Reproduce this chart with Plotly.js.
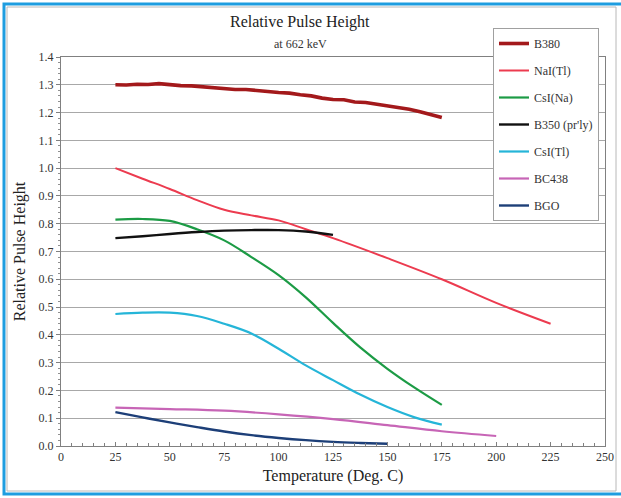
<!DOCTYPE html>
<html>
<head>
<meta charset="utf-8">
<script src="https://cdn.plot.ly/plotly-3.0.1.min.js"></script>
<style>html,body{margin:0;padding:0;background:#fff;}#chart{width:621px;height:498px;}</style>
</head>
<body>
<div id="chart"></div>
<script>
// ---- data ----
const seriesNames = ["B380", "NaI(Tl)", "CsI(Na)", "B350 (pr'ly)", "CsI(Tl)", "BC438", "BGO"];

const b380T = [25, 30, 35, 40, 45, 50, 55, 60, 65, 70, 75, 80, 85, 90, 95, 100, 105, 110, 115, 120, 125, 130, 135, 140, 145, 150, 155, 160, 165, 170, 175];
const b380V = [1.300, 1.299, 1.302, 1.301, 1.304, 1.300, 1.297, 1.296, 1.292, 1.290, 1.287, 1.283, 1.283, 1.278, 1.276, 1.272, 1.270, 1.264, 1.260, 1.252, 1.247, 1.246, 1.238, 1.236, 1.230, 1.224, 1.219, 1.212, 1.203, 1.194, 1.182];

const naiT = [25, 37.5, 50, 62.5, 75, 87.5, 100, 112.5, 125, 150, 175, 200, 225];
const naiV = [1.00, 0.962, 0.925, 0.885, 0.850, 0.830, 0.812, 0.780, 0.748, 0.676, 0.600, 0.515, 0.440];

const csinaT = [25, 37.5, 50, 62.5, 75, 87.5, 100, 112.5, 125, 137.5, 150, 162.5, 175];
const csinaV = [0.815, 0.817, 0.810, 0.780, 0.740, 0.680, 0.615, 0.535, 0.443, 0.355, 0.278, 0.210, 0.148];

const b350T = [25, 37.5, 50, 62.5, 75, 87.5, 100, 112.5, 125];
const b350V = [0.748, 0.755, 0.763, 0.770, 0.775, 0.777, 0.777, 0.772, 0.760];

const csitlT = [25, 37.5, 50, 62.5, 75, 87.5, 100, 112.5, 125, 137.5, 150, 162.5, 175];
const csitlV = [0.475, 0.480, 0.480, 0.468, 0.440, 0.405, 0.350, 0.290, 0.237, 0.185, 0.140, 0.103, 0.077];

const bc438T = [25, 50, 75, 100, 125, 150, 175, 200];
const bc438V = [0.138, 0.133, 0.127, 0.114, 0.097, 0.075, 0.053, 0.036];

const bgoT = [25, 37.5, 50, 62.5, 75, 87.5, 100, 112.5, 125, 137.5, 150];
const bgoV = [0.122, 0.103, 0.085, 0.068, 0.052, 0.039, 0.029, 0.021, 0.015, 0.011, 0.008];

const xTicks = [0, 25, 50, 75, 100, 125, 150, 175, 200, 225, 250];
const yTicks = [0.0, 0.1, 0.2, 0.3, 0.4, 0.5, 0.6, 0.7, 0.8, 0.9, 1.0, 1.1, 1.2, 1.3, 1.4];

// ---- styles ----
const colors = ["#a3191b", "#ec3b4f", "#1c9b45", "#111111", "#25b5d8", "#c765b6", "#1d3f78"];
const widths = [3.6, 2, 2.2, 2.4, 2.2, 2.2, 2.4];
const xs = [b380T, naiT, csinaT, b350T, csitlT, bc438T, bgoT];
const ys = [b380V, naiV, csinaV, b350V, csitlV, bc438V, bgoV];

const traces = seriesNames.map((n, i) => ({
  x: xs[i], y: ys[i], name: n, type: 'scatter', mode: 'lines',
  legendgroup: 'g' + i,
  line: {color: colors[i], width: widths[i], shape: i === 0 ? 'linear' : 'spline', smoothing: 1}
}));

const serif = "Liberation Serif";
const L = 61, R = 605, T = 57, B = 446;
const px = v => (v - L) / (R - L);
const py = v => (B - v) / (B - T);

const layout = {
  width: 621, height: 498,
  margin: {l: L, r: 621 - R, t: T, b: 498 - B},
  paper_bgcolor: '#ffffff', plot_bgcolor: '#ffffff',
  font: {family: serif, color: '#333'},
  showlegend: true,
  legend: {
    x: px(493), y: py(28), xanchor: 'left', yanchor: 'top',
    bgcolor: '#ffffff', bordercolor: '#a0a0a0', borderwidth: 1,
    font: {family: serif, size: 12, color: '#333'},
    itemwidth: 30, tracegroupgap: 8, traceorder: 'grouped'
  },
  xaxis: {
    range: [0, 250], tickvals: xTicks, ticktext: xTicks.map(String),
    showgrid: false, zeroline: false,
    showline: true, linecolor: '#808080', linewidth: 1, mirror: true,
    ticks: 'inside', ticklen: 4, tickcolor: '#808080',
    minor: {dtick: 5, ticks: 'inside', ticklen: 3, tickcolor: '#808080', showgrid: false},
    tickfont: {family: serif, size: 12, color: '#333'},
    title: {text: 'Temperature (Deg. C)', font: {family: serif, size: 16, color: '#222'}, standoff: 6}
  },
  yaxis: {
    range: [0, 1.4], tickvals: yTicks, ticktext: yTicks.map(v => v.toFixed(1)),
    showgrid: true, gridcolor: '#a8a8a8', gridwidth: 1, zeroline: false,
    showline: true, linecolor: '#808080', linewidth: 1, mirror: true,
    ticks: 'outside', ticklen: 4, tickcolor: '#808080',
    minor: {dtick: 0.02, ticks: 'outside', ticklen: 2, tickcolor: '#909090', showgrid: false},
    tickfont: {family: serif, size: 12, color: '#333'},
    title: {text: 'Relative Pulse Height', font: {family: serif, size: 16, color: '#222'}, standoff: 8}
  },
  annotations: [
    {text: 'Relative Pulse Height', xref: 'paper', yref: 'paper', x: px(300), y: py(22), xanchor: 'center', yanchor: 'middle', showarrow: false, font: {family: serif, size: 16, color: '#222'}},
    {text: 'at 662 keV', xref: 'paper', yref: 'paper', x: px(300), y: py(44), xanchor: 'center', yanchor: 'middle', showarrow: false, font: {family: serif, size: 12, color: '#333'}}
  ],
  shapes: [
    {type: 'rect', xref: 'paper', yref: 'paper', x0: px(4), x1: px(623), y0: py(494), y1: py(4), line: {color: '#1e9de0', width: 3}, layer: 'above'},
    {type: 'rect', xref: 'paper', yref: 'paper', x0: px(7), x1: px(616), y0: py(491), y1: py(7), line: {color: '#b8b8b8', width: 1}, layer: 'below'}
  ]
};

Plotly.newPlot('chart', traces, layout, {displayModeBar: false, staticPlot: true});
</script>
</body>
</html>
